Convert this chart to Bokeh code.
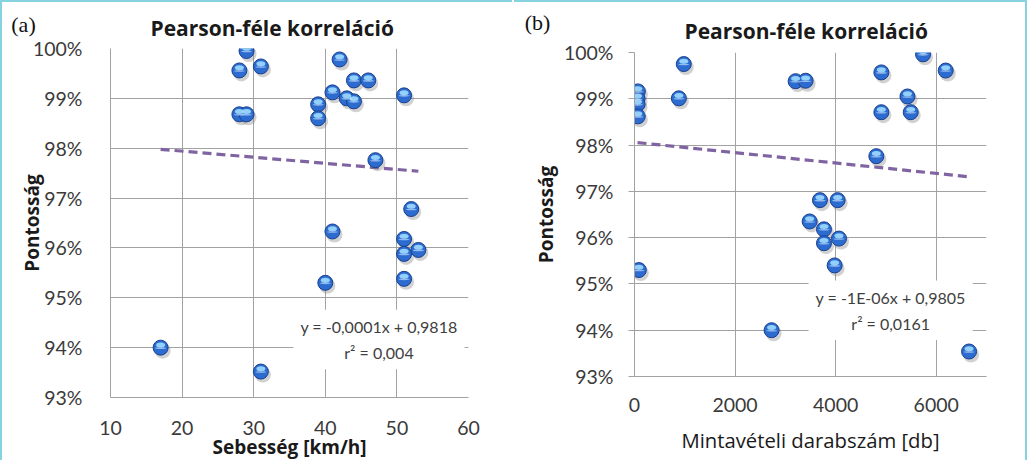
import numpy as np
from bokeh.plotting import figure
from bokeh.models import Label, FixedTicker, NumeralTickFormatter, Range1d
from bokeh.embed import file_html
from bokeh.resources import INLINE

# ---------------- data ----------------
speed_kmh = [29, 28, 31, 28, 29, 42, 44, 46, 41, 43, 44, 39, 39, 51, 47, 52, 41, 51, 53, 51, 51, 40, 17, 31]
accuracy_a = [0.9995, 0.9956, 0.9964, 0.9868, 0.9868, 0.9978, 0.9936, 0.9936, 0.9912, 0.9900, 0.9894,
              0.9888, 0.9860, 0.9906, 0.9776, 0.9678, 0.9633, 0.9618, 0.9596, 0.9588, 0.9538, 0.9530,
              0.9400, 0.9352]

sample_count = [67, 60, 60, 65, 980, 882, 3204, 3403, 4909, 5738, 6189, 5428, 4909, 5493, 4809,
                3688, 4040, 3483, 3768, 3768, 4066, 3980, 86, 2726, 6653]
accuracy_b = [0.9916, 0.9900, 0.9888, 0.9862, 0.9975, 0.9901, 0.9938, 0.9939, 0.9957, 0.9996, 0.9961,
              0.9905, 0.9871, 0.9871, 0.9776, 0.9681, 0.9681, 0.9635, 0.9618, 0.9588, 0.9598, 0.9540,
              0.9530, 0.9400, 0.9354]

# linear trend lines as drawn in the picture (slope, intercept)
trend_a = (-0.000122, 0.98185)
trend_b = (-1.12e-06, 0.9806)

x_ticks_a = [10, 20, 30, 40, 50, 60]
x_ticks_b = [0, 2000, 4000, 6000]
y_ticks = [0.93, 0.94, 0.95, 0.96, 0.97, 0.98, 0.99, 1.00]

title_text = "Pearson-féle korreláció"
y_label = "Pontosság"
x_label_a = "Sebesség [km/h]"
x_label_b = "Mintavételi darabszám [db]"
eq_a = "y = -0,0001x + 0,9818\nr\u00b2 = 0,004"
eq_b = "y = -1E-06x + 0,9805\nr\u00b2 = 0,0161"
panel_letters = ["(a)", "(b)"]

FONT = "Lato"
FONT_B = "Open Sans"
GRID = "#a2a2a2"
TXT = "#3a3a3a"
FRAME = "#86d3df"


def make_panel(xs, ys, trend, xr, xticks, xlabel, xlabel_weight, xlabel_size, eq, eq_pos,
               width, height, borders, title_offset, title_standoff,
               px_dx, px_dy, ytick_out, ylab_standoff, xstand, xlab_stand, ystand, styles):
    p = figure(width=width, height=height, output_backend="svg", toolbar_location=None,
               x_range=Range1d(*xr), y_range=Range1d(0.93, 1.0),
               min_border_left=borders[0], min_border_right=borders[1],
               min_border_top=borders[2], min_border_bottom=borders[3], styles=styles)
    p.outline_line_color = None
    p.background_fill_color = "white"
    p.border_fill_color = "white"

    p.title.text = title_text
    p.title.align = "left"
    p.title.offset = title_offset
    p.title.standoff = title_standoff
    p.title.text_font = FONT_B
    p.title.text_font_size = "21px"
    p.title.text_font_style = "bold"
    p.title.text_color = "#1a1a1a"

    p.xaxis.ticker = FixedTicker(ticks=xticks)
    p.yaxis.ticker = FixedTicker(ticks=y_ticks)
    p.yaxis.formatter = NumeralTickFormatter(format="0%")
    p.xgrid.ticker = FixedTicker(ticks=xticks)
    p.ygrid.ticker = FixedTicker(ticks=y_ticks)
    p.grid.grid_line_color = GRID
    p.grid.grid_line_width = 1

    for ax in (p.xaxis[0], p.yaxis[0]):
        ax.major_label_text_font = FONT
        ax.major_label_text_font_size = "19.5px"
        ax.major_label_text_color = TXT
        ax.minor_tick_line_color = None
        ax.axis_line_color = GRID
        ax.axis_label_text_font = FONT_B
        ax.axis_label_text_color = "#1a1a1a"
    p.xaxis.major_tick_line_color = None
    p.xaxis.major_label_standoff = xstand
    p.xaxis.axis_label = xlabel
    p.xaxis.axis_label_text_font_style = xlabel_weight
    p.xaxis.axis_label_text_font_size = xlabel_size
    p.xaxis.axis_label_standoff = xlab_stand
    if ytick_out:
        p.yaxis.major_tick_line_color = GRID
        p.yaxis.major_tick_out = ytick_out
        p.yaxis.major_tick_in = 0
    else:
        p.yaxis.major_tick_line_color = None
    p.yaxis.major_label_standoff = ystand
    p.yaxis.axis_label = y_label
    p.yaxis.axis_label_text_font_style = "bold"
    p.yaxis.axis_label_text_font_size = "19px"
    p.yaxis.axis_label_standoff = ylab_standoff

    xa = np.array(xs, dtype=float)
    ya = np.array(ys, dtype=float)

    # trend line
    k, b = trend
    tx = np.array([xa.min(), xa.max()])
    p.line(tx, k * tx + b, line_color="#8064a2", line_width=3.2, line_dash="9 5")

    # balls: shadow, body, highlight
    dx, dy = px_dx, px_dy
    p.scatter(xa + 2 * dx, ya - 3 * dy, size=16, fill_color="#7a7a7a", fill_alpha=0.35, line_color=None)
    p.scatter(xa, ya, size=15, fill_color="#2c6cd0", line_color="#1b3f8c", line_width=1)
    p.ellipse(xa, ya + 2.7 * dy, width=9, height=5, width_units="screen", height_units="screen",
              fill_color="#9fdcff", fill_alpha=0.9, line_color=None)
    p.ellipse(xa, ya - 0.5 * dy, width=11, height=1.6, width_units="screen", height_units="screen",
              fill_color="#d8efff", fill_alpha=0.6, line_color=None)

    p.add_layout(Label(x=eq_pos[0], y=eq_pos[1], text=eq, text_align="center", text_baseline="middle",
                       text_font=FONT, text_font_size="16px", text_color="#404040",
                       text_line_height=1.4, background_fill_color="white", padding=7))
    return p


def make_letter(letter, left, top):
    q = figure(width=40, height=32, output_backend="svg", toolbar_location=None,
               x_axis_type=None, y_axis_type=None, title_location=None,
               x_range=Range1d(0, 1), y_range=Range1d(0, 1), min_border=0,
               styles={"position": "absolute", "left": f"{left}px", "top": f"{top}px"})
    q.outline_line_color = None
    q.background_fill_alpha = 0
    q.border_fill_alpha = 0
    q.xgrid.visible = False
    q.ygrid.visible = False
    q.add_layout(Label(x=0.5, y=0.5, text=letter, text_align="center", text_baseline="middle",
                       text_font="Liberation Serif", text_font_size="22px", text_color="#111111"))
    return q


pa = make_panel(speed_kmh, accuracy_a, trend_a, (10, 60), x_ticks_a, x_label_a, "bold", "19px",
                eq_a, (47.5, 0.94164),
                512, 460, (108, 46, 46, 65), 40, 14,
                10 / 71.6, 0.01 / 49.86, 0, -15, 17, -4, 22,
                {"position": "absolute", "left": "0px", "top": "0px",
                 "border-top": "2px solid " + FRAME, "border-left": "2px solid " + FRAME})
pb = make_panel(sample_count, accuracy_b, trend_b, (0, 7000), x_ticks_b, x_label_b, "normal", "20.3px",
                eq_b, (5094, 0.9443),
                513, 460, (120, 41, 50, 86), 50, 16,
                2000 / 100.5, 0.01 / 46.2, 6, 2, 15, 11, 15,
                {"position": "absolute", "left": "514px", "top": "0px",
                 "border-top": "2px solid " + FRAME, "border-right": "2px solid " + FRAME})
la = make_letter(panel_letters[0], 3, 8)
lb = make_letter(panel_letters[1], 517, 6)

open("out.html", "w").write(file_html([pa, pb, la, lb], INLINE))
